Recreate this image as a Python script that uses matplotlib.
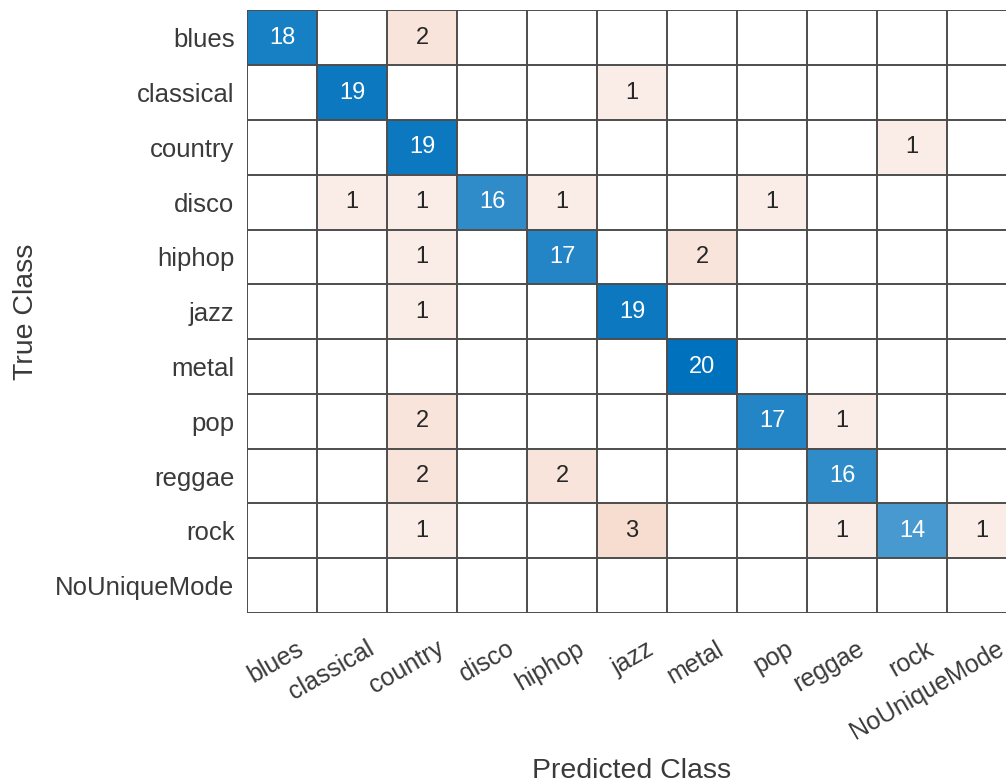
import matplotlib
matplotlib.use("Agg")
import matplotlib.pyplot as plt
import matplotlib.transforms as mtransforms
import numpy as np

classes = ["blues", "classical", "country", "disco", "hiphop", "jazz",
           "metal", "pop", "reggae", "rock", "NoUniqueMode"]

# rows = true class, columns = predicted class
counts = np.array([
    [18, 0, 2, 0, 0, 0, 0, 0, 0, 0, 0],
    [0, 19, 0, 0, 0, 1, 0, 0, 0, 0, 0],
    [0, 0, 19, 0, 0, 0, 0, 0, 0, 1, 0],
    [0, 1, 1, 16, 1, 0, 0, 1, 0, 0, 0],
    [0, 0, 1, 0, 17, 0, 2, 0, 0, 0, 0],
    [0, 0, 1, 0, 0, 19, 0, 0, 0, 0, 0],
    [0, 0, 0, 0, 0, 0, 20, 0, 0, 0, 0],
    [0, 0, 2, 0, 0, 0, 0, 17, 1, 0, 0],
    [0, 0, 2, 0, 2, 0, 0, 0, 16, 0, 0],
    [0, 0, 1, 0, 0, 3, 0, 0, 1, 14, 1],
    [0, 0, 0, 0, 0, 0, 0, 0, 0, 0, 0],
])

diag_color = np.array([0, 114, 189]) / 255
off_color = np.array([217, 83, 25]) / 255

plt.rcParams["font.family"] = ["Liberation Sans", "DejaVu Sans"]

n = len(classes)
vmax = counts.max()
rgb = np.ones((n, n, 3))
for i in range(n):
    for j in range(n):
        v = counts[i, j]
        if v == 0:
            continue
        a = min(1.0, 0.06 + 0.94 * v / vmax)
        base = diag_color if i == j else off_color
        rgb[i, j] = (1 - a) * np.ones(3) + a * base

fig = plt.figure(figsize=(10.06, 7.82), dpi=100)
ax = fig.add_axes([0.2455, 0.2161, 0.7654, 0.7705])
ax.imshow(rgb, aspect="auto", extent=(-0.5, n - 0.5, n - 0.5, -0.5),
          interpolation="nearest")

for k in range(n + 1):
    ax.axhline(k - 0.5, color="#4d4d4d", lw=1.4)
    ax.axvline(k - 0.5, color="#4d4d4d", lw=1.4)

for i in range(n):
    for j in range(n):
        v = counts[i, j]
        if v == 0:
            continue
        tc = "white" if i == j else "#262626"
        ax.text(j, i, str(v), ha="center", va="center", fontsize=17, color=tc)

ax.set_xlim(-0.5, n - 0.5)
ax.set_ylim(n - 0.5, -0.5)
ax.set_xticks(range(n))
ax.set_yticks(range(n))
ax.set_xticklabels(classes, rotation=30, ha="right", va="top",
                   rotation_mode="anchor", fontsize=18, color="#3a3a3a")
ax.set_yticklabels(classes, fontsize=18.5, color="#3a3a3a")
ax.tick_params(axis="y", length=0, pad=9)
ax.tick_params(axis="x", length=0, pad=17)
for spine in ax.spines.values():
    spine.set_visible(False)

offset = mtransforms.ScaledTranslation(0.14, 0.0, fig.dpi_scale_trans)
for lab in ax.get_xticklabels():
    lab.set_transform(lab.get_transform() + offset)

ax.set_xlabel("Predicted Class", fontsize=20.5, color="#3a3a3a", labelpad=10)
ax.set_ylabel("True Class", fontsize=20.5, color="#3a3a3a", labelpad=12)

fig.savefig("out.png", dpi=100)
